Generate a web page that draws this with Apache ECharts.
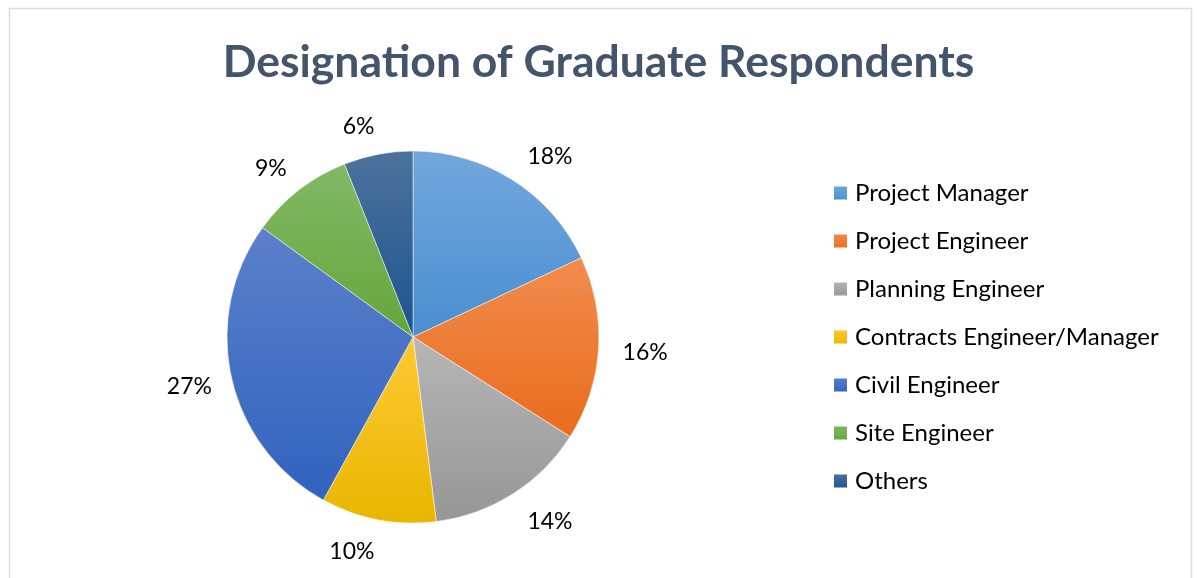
<!DOCTYPE html>
<html>
<head>
<meta charset="utf-8">
<script src="https://cdn.jsdelivr.net/npm/echarts@6/dist/echarts.min.js"></script>
<style>
html,body{margin:0;padding:0;background:#fff;}
#chart{width:1197px;height:578px;}
</style>
</head>
<body>
<div id="chart"></div>
<script>
const titleText = 'Designation of Graduate Respondents';
const categories = ['Project Manager','Project Engineer','Planning Engineer','Contracts Engineer/Manager','Civil Engineer','Site Engineer','Others'];
const values = [18, 16, 14, 10, 27, 9, 6];
const topColors = ['#72A7DC','#F18C4E','#B6B6B6','#FFC934','#5B80CB','#83B866','#4C729C'];
const bottomColors = ['#4A8ED0','#E96C1C','#969696','#E8B600','#3063BE','#64A63A','#1C548F'];

const FONT = 'Lato, "Open Sans", sans-serif';
const chart = echarts.init(document.getElementById('chart'));

// mid-angle of each slice (clockwise from 12 o'clock), used to nudge labels like Excel's "outside end"
const total = values.reduce((a, b) => a + b, 0);
const midAngles = [];
let acc = 0;
values.forEach(v => { midAngles.push((acc + v / 2) / total * 2 * Math.PI); acc += v; });

const data = categories.map((name, i) => ({
  name: name,
  value: values[i],
  itemStyle: {
    color: new echarts.graphic.LinearGradient(0, 0, 0, 1, [
      {offset: 0, color: topColors[i]},
      {offset: 1, color: bottomColors[i]}
    ])
  }
}));

chart.setOption({
  animation: false,
  backgroundColor: '#ffffff',
  graphic: [{
    type: 'rect',
    shape: {x: 9.5, y: 8.5, width: 1182, height: 600},
    style: {fill: 'none', stroke: '#D9DEE6', lineWidth: 1.5},
    silent: true
  }],
  title: {
    text: titleText,
    left: 'center',
    top: 35,
    textStyle: {fontFamily: FONT, fontWeight: 'bold', fontSize: 44.5, color: '#44546A'}
  },
  legend: {
    orient: 'vertical',
    left: 832,
    top: 180,
    padding: 0,
    icon: 'rect',
    itemWidth: 15,
    itemHeight: 15,
    itemGap: 22,
    textStyle: {fontFamily: FONT, fontSize: 24, color: '#000000', lineHeight: 26, padding: [0,0,0,2]},
    data: categories
  },
  series: [{
    type: 'pie',
    center: [413, 337],
    radius: 186,
    startAngle: 90,
    clockwise: true,
    avoidLabelOverlap: false,
    data: data,
    itemStyle: {borderColor: '#ffffff', borderWidth: 0.5},
    label: {
      show: true,
      position: 'outside',
      formatter: function(p){ return p.value + '%'; },
      fontFamily: FONT,
      fontSize: 23,
      color: '#000000'
    },
    labelLine: {show: false, length: 20, length2: 0},
    labelLayout: function(params) {
      const a = midAngles[params.dataIndex];
      const s = Math.sin(a), c = Math.cos(a);
      return {dx: s < 0 ? 5 : -1, dy: -10 * c + 2};
    },
    emphasis: {disabled: true}
  }]
});
</script>
</body>
</html>
